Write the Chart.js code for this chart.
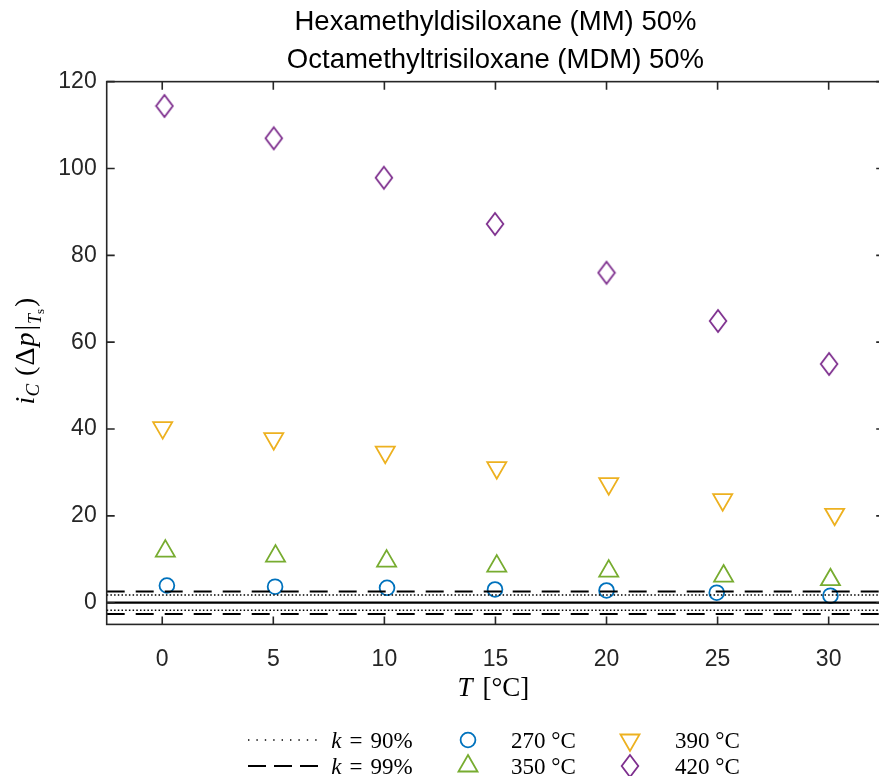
<!DOCTYPE html>
<html>
<head>
<meta charset="utf-8">
<script src="https://cdn.jsdelivr.net/npm/chart.js@4.4.0/dist/chart.umd.min.js"></script>
<style>
  html, body { margin: 0; padding: 0; overflow: hidden; background: #fff; }
  #wrap { width: 900px; height: 776px; }
</style>
</head>
<body>
<div id="wrap"><canvas id="chart" width="900" height="776"></canvas></div>
<script>
const titleLines = ['Hexamethyldisiloxane (MM) 50%', 'Octamethyltrisiloxane (MDM) 50%'];
const xTicks = [0, 5, 10, 15, 20, 25, 30];
const yTicks = [0, 20, 40, 60, 80, 100, 120];
const xRange = [-2.5, 32.5];
const yRange = [-5, 120];

// measured points (T in °C, i_C)
const t270 = [0.21, 5.08, 10.12, 14.98, 20.0, 24.96, 30.08];
const v270 = [3.96, 3.68, 3.43, 3.04, 2.81, 2.30, 1.61];
const t350 = [0.14, 5.10, 10.10, 15.06, 20.10, 25.27, 30.08];
const v350 = [11.88, 10.73, 9.58, 8.43, 7.28, 6.13, 5.30];
const t390 = [0.02, 5.02, 10.04, 15.06, 20.10, 25.23, 30.27];
const v390 = [40.31, 37.77, 34.66, 31.09, 27.41, 23.72, 20.36];
const t420 = [0.10, 5.02, 9.98, 14.98, 20.0, 25.02, 30.02];
const v420 = [114.4, 106.96, 97.88, 87.22, 76.0, 64.88, 54.98];

// confidence bands
const k90 = [1.75, -1.75];
const k99 = [2.6, -2.6];
const zeroLine = [0];

const axisColor = '#262626';
const sans = '"Liberation Sans", Arial, sans-serif';
const serif = '"Liberation Serif", "DejaVu Serif", serif';

function pts(xs, ys) {
  return xs.map((x, i) => ({ x: x, y: ys[i] }));
}

function hline(v) {
  return [{ x: xRange[0], y: v }, { x: xRange[1], y: v }];
}

// taller-than-wide diamond like the matlab marker
function makeDiamond(color) {
  const c = document.createElement('canvas');
  c.width = 20; c.height = 26;
  const g = c.getContext('2d');
  g.strokeStyle = color;
  g.lineWidth = 1.8;
  g.beginPath();
  g.moveTo(10, 2);
  g.lineTo(18.3, 13);
  g.lineTo(10, 24);
  g.lineTo(1.7, 13);
  g.closePath();
  g.stroke();
  return c;
}

const none = 'rgba(0,0,0,0)';
const datasets = [];

k90.forEach(v => datasets.push({
  type: 'line', label: 'k90', data: hline(v), borderColor: '#000', borderWidth: 1.5,
  borderDash: [1.5, 2.2], pointRadius: 0, fill: false
}));
k99.forEach(v => datasets.push({
  type: 'line', label: 'k99', data: hline(v), borderColor: '#000', borderWidth: 2,
  borderDash: [18, 11], pointRadius: 0, fill: false
}));
zeroLine.forEach(v => datasets.push({
  type: 'line', label: 'zero', data: hline(v), borderColor: '#000', borderWidth: 2.2,
  pointRadius: 0, fill: false
}));

datasets.push({
  label: '270 °C', data: pts(t270, v270), pointStyle: 'circle', pointRadius: 7.4,
  borderColor: '#0072BD', backgroundColor: none, pointBorderWidth: 1.8
});
datasets.push({
  label: '350 °C', data: pts(t350, v350), pointStyle: 'triangle', pointRadius: 11,
  borderColor: '#77AC30', backgroundColor: none, pointBorderWidth: 1.8
});
datasets.push({
  label: '390 °C', data: pts(t390, v390), pointStyle: 'triangle', pointRadius: 11, rotation: 180,
  borderColor: '#EDB120', backgroundColor: none, pointBorderWidth: 1.8
});
datasets.push({
  label: '420 °C', data: pts(t420, v420), pointStyle: makeDiamond('#7E2F8E'), pointRadius: 12,
  borderColor: '#7E2F8E', backgroundColor: none, pointBorderWidth: 1.8
});

// box with inward ticks on all four sides
const boxPlugin = {
  id: 'box',
  afterDatasetsDraw(chart) {
    const ctx = chart.ctx;
    const { left, right, top, bottom } = chart.chartArea;
    const xs = chart.scales.x, ys = chart.scales.y;
    ctx.save();
    ctx.strokeStyle = axisColor;
    ctx.lineWidth = 1.6;
    ctx.strokeRect(left, top, right - left, bottom - top);
    ctx.beginPath();
    xTicks.forEach(v => {
      const p = xs.getPixelForValue(v);
      ctx.moveTo(p, bottom); ctx.lineTo(p, bottom - 8);
      ctx.moveTo(p, top); ctx.lineTo(p, top + 8);
    });
    yTicks.forEach(v => {
      const p = ys.getPixelForValue(v);
      ctx.moveTo(left, p); ctx.lineTo(left + 8, p);
      ctx.moveTo(right, p); ctx.lineTo(right - 8, p);
    });
    ctx.stroke();
    ctx.restore();
  }
};

function drawRuns(ctx, runs, cx, cy) {
  let total = 0;
  runs.forEach(r => {
    ctx.font = (r.it ? 'italic ' : '') + r.size + 'px ' + serif;
    r.w = ctx.measureText(r.t).width;
    total += r.w + (r.gap || 0);
  });
  let x = cx - total / 2;
  ctx.textBaseline = 'alphabetic';
  ctx.textAlign = 'left';
  runs.forEach(r => {
    ctx.font = (r.it ? 'italic ' : '') + r.size + 'px ' + serif;
    ctx.fillText(r.t, x, cy + (r.dy || 0));
    x += r.w + (r.gap || 0);
  });
}

const labelsPlugin = {
  id: 'labels',
  afterDraw(chart) {
    const ctx = chart.ctx;
    const { left, right } = chart.chartArea;
    ctx.save();
    ctx.fillStyle = '#000';

    // x axis title
    drawRuns(ctx, [
      { t: 'T', it: true, size: 27, gap: 10 },
      { t: '[°C]', size: 27 }
    ], (left + right) / 2 - 2, 696);

    // y axis title, rotated
    ctx.save();
    ctx.translate(34, 351);
    ctx.rotate(-Math.PI / 2);
    drawRuns(ctx, [
      { t: 'i', it: true, size: 28 },
      { t: 'C', it: true, size: 19, dy: 5, gap: 8 },
      { t: '(', size: 28, gap: 1 },
      { t: 'Δ', size: 28, gap: 1 },
      { t: 'p', it: true, size: 28, gap: 2 },
      { t: '|', size: 28, gap: 1 },
      { t: 'T', it: true, size: 18, dy: 7 },
      { t: 's', size: 13, dy: 10, gap: 2 },
      { t: ')', size: 28 }
    ], 0, 0);
    ctx.restore();

    // legend
    const ds = chart.data.datasets;
    const row1 = 740, row2 = 766;
    ctx.strokeStyle = '#000';
    ctx.lineWidth = 1.5;
    ctx.setLineDash([1.4, 7]);
    ctx.beginPath(); ctx.moveTo(248, row1); ctx.lineTo(318, row1); ctx.stroke();
    ctx.lineWidth = 2;
    ctx.setLineDash([18, 8]);
    ctx.beginPath(); ctx.moveTo(248, row2); ctx.lineTo(318, row2); ctx.stroke();
    ctx.setLineDash([]);

    const kRuns = p => [
      { t: 'k', it: true, size: 23, gap: 8 },
      { t: '=', size: 23, gap: 8 },
      { t: p, size: 23 }
    ];
    ctx.fillStyle = '#000';
    drawRuns(ctx, kRuns('90%'), 372, row1 + 8);
    drawRuns(ctx, kRuns('99%'), 372, row2 + 8);

    const markers = [
      { d: ds.find(d => d.label === '270 °C'), x: 468, y: row1, tx: 511 },
      { d: ds.find(d => d.label === '350 °C'), x: 468, y: row2, tx: 511 },
      { d: ds.find(d => d.label === '390 °C'), x: 630, y: row1, tx: 675 },
      { d: ds.find(d => d.label === '420 °C'), x: 630, y: row2, tx: 675 }
    ];
    markers.forEach(m => {
      ctx.save();
      ctx.strokeStyle = m.d.borderColor;
      ctx.fillStyle = none;
      ctx.lineWidth = m.d.pointBorderWidth;
      Chart.helpers.drawPoint(ctx, {
        pointStyle: m.d.pointStyle, radius: m.d.pointRadius,
        rotation: m.d.rotation || 0, borderWidth: m.d.pointBorderWidth
      }, m.x, m.y);
      ctx.restore();
      ctx.font = '23px ' + serif;
      ctx.textAlign = 'left';
      ctx.textBaseline = 'alphabetic';
      ctx.fillText(m.d.label, m.tx, m.y + 8);
    });
    ctx.restore();
  }
};

new Chart(document.getElementById('chart'), {
  type: 'scatter',
  data: { datasets: datasets },
  options: {
    responsive: false,
    animation: false,
    layout: { padding: { left: 0, right: 15.8, top: 0, bottom: 0 } },
    plugins: {
      legend: { display: false },
      tooltip: { enabled: false },
      title: {
        display: true,
        text: titleLines,
        fullSize: false,
        color: '#000',
        font: { family: sans, size: 27.5, weight: 'normal', lineHeight: 1.37 },
        padding: { top: 4, bottom: 2.3 }
      }
    },
    scales: {
      x: {
        type: 'linear',
        min: xRange[0],
        max: xRange[1],
        afterBuildTicks: s => { s.ticks = xTicks.map(v => ({ value: v })); },
        afterFit: s => { s.height = 151.6; },
        grid: { display: false, drawTicks: false },
        border: { display: false },
        ticks: { color: axisColor, font: { family: sans, size: 23 }, padding: 21, maxRotation: 0 }
      },
      y: {
        type: 'linear',
        min: yRange[0],
        max: yRange[1],
        afterBuildTicks: s => { s.ticks = yTicks.map(v => ({ value: v })); },
        afterFit: s => { s.width = 106.7; },
        grid: { display: false, drawTicks: false },
        border: { display: false },
        ticks: { color: axisColor, font: { family: sans, size: 23 }, padding: 10 }
      }
    }
  },
  plugins: [boxPlugin, labelsPlugin]
});
</script>
</body>
</html>
